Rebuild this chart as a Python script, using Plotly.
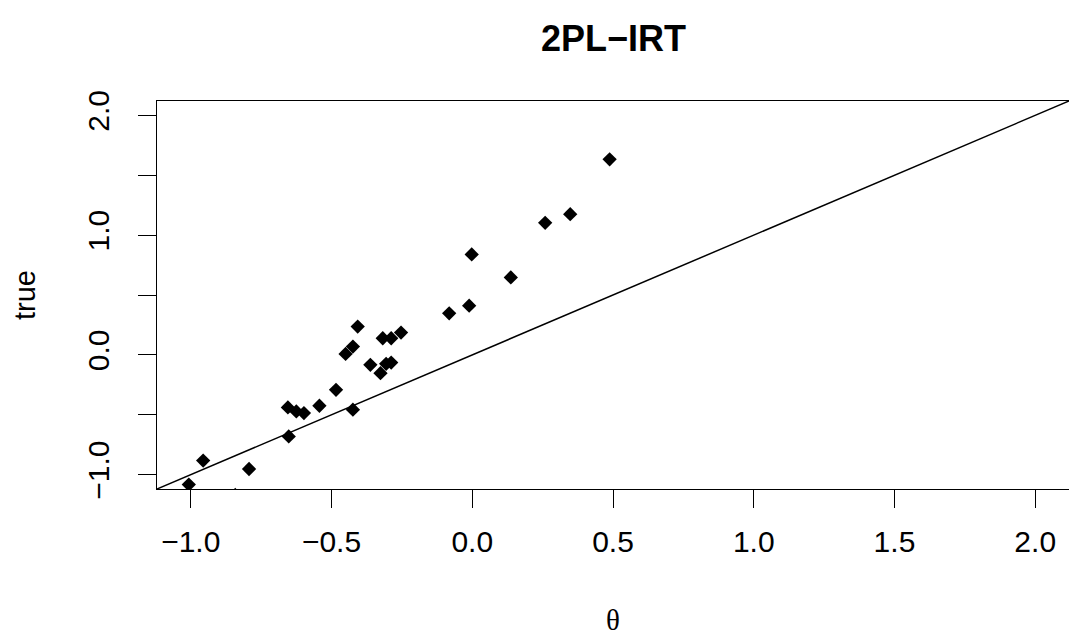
import plotly.graph_objects as go

# estimated ability (theta) vs true value
theta = [-0.407, -0.318, -0.288, -0.253, -0.450, -0.424, -0.362, -0.326, -0.306, -0.288,
         -0.484, -0.543, -0.655, -0.625, -0.598, -0.424, 0.488, 0.348, 0.259, -0.002,
         0.137, -0.011, -0.082, -1.007, -0.956, -0.793, -0.652, -0.842]
true_vals = [0.236, 0.139, 0.139, 0.186, 0.008, 0.069, -0.083, -0.153, -0.075, -0.064,
             -0.292, -0.425, -0.439, -0.472, -0.486, -0.458, 1.633, 1.175, 1.103, 0.839,
             0.647, 0.411, 0.347, -1.083, -0.883, -0.953, -0.681, -1.170]

tick_vals = [-1.0, -0.5, 0.0, 0.5, 1.0, 1.5, 2.0]
x_tick_text = ["\u22121.0", "\u22120.5", "0.0", "0.5", "1.0", "1.5", "2.0"]
y_tick_text = ["\u22121.0", "", "0.0", "", "1.0", "", "2.0"]

lim = [-1.0, 2.0]
pad = 0.04 * (lim[1] - lim[0])
rng = [lim[0] - pad, lim[1] + pad]

# abline(0, 1)
intercept, slope = 0.0, 1.0
line_x = rng
line_y = [intercept + slope * v for v in line_x]

FONT = "Liberation Sans, Arial, sans-serif"

fig = go.Figure()
fig.add_trace(go.Scatter(x=line_x, y=line_y, mode="lines",
                         line=dict(color="black", width=1.5), hoverinfo="skip"))
fig.add_trace(go.Scatter(x=theta, y=true_vals, mode="markers",
                         marker=dict(symbol="diamond", size=11, color="black",
                                     line=dict(width=0))))

axis_common = dict(range=rng, showgrid=False, zeroline=False, showline=True,
                   linecolor="black", linewidth=1.2, mirror=True,
                   ticks="outside", ticklen=18, tickwidth=1.2, tickcolor="black",
                   tickvals=tick_vals, tickfont=dict(family=FONT, size=30, color="black"))

fig.update_layout(
    width=1069, height=639,
    margin=dict(l=157, r=0, t=101, b=150),
    plot_bgcolor="white", paper_bgcolor="white",
    showlegend=False,
    xaxis=dict(**axis_common, ticktext=x_tick_text, ticklabelstandoff=8),
    yaxis=dict(**axis_common, ticktext=y_tick_text, tickangle=-90, ticklabelstandoff=17),
    annotations=[
        dict(text="<b>2PL\u2212IRT</b>", x=0.5, y=1.162, xref="paper", yref="paper",
             showarrow=False, xanchor="center", yanchor="middle",
             font=dict(family=FONT, size=36, color="black")),
        dict(text="\u03b8", x=0.5, y=-0.338, xref="paper", yref="paper",
             showarrow=False, xanchor="center", yanchor="middle",
             font=dict(family="Liberation Serif, serif", size=29, color="black")),
        dict(text="true", x=-0.1447, y=0.5, xref="paper", yref="paper",
             showarrow=False, xanchor="center", yanchor="middle", textangle=-90,
             font=dict(family=FONT, size=29, color="black")),
    ],
)

# drop the default page margin so the figure fills the window exactly
fig.write_html("out.html", config={"displayModeBar": False},
               post_script="document.body.style.margin='0';")
